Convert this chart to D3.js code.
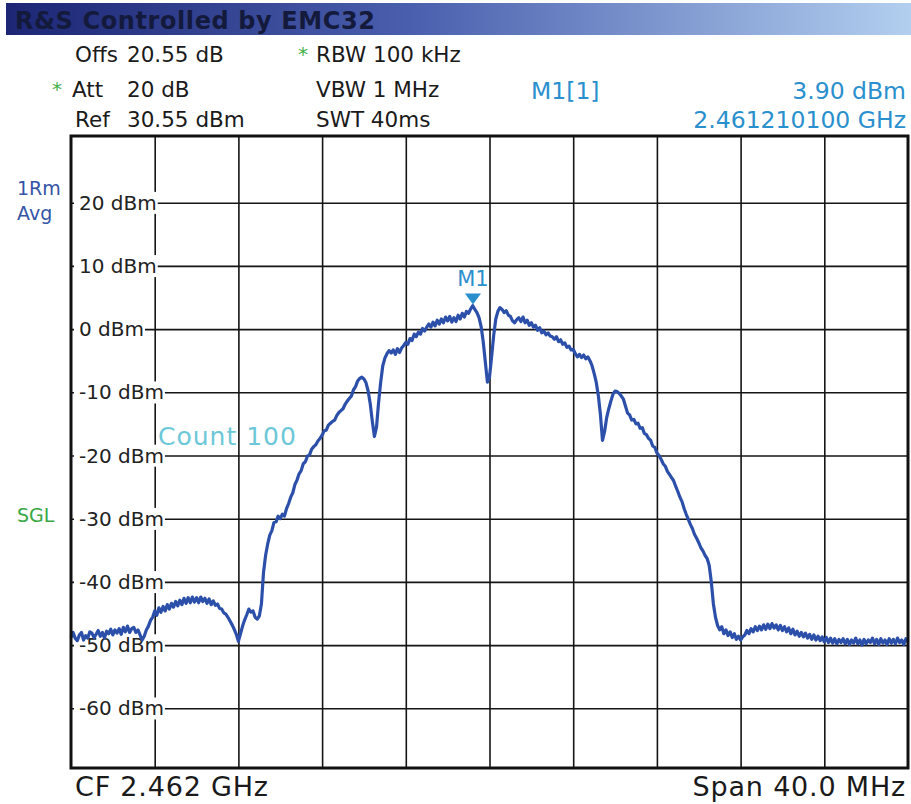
<!DOCTYPE html>
<html>
<head>
<meta charset="utf-8">
<script src="https://cdn.jsdelivr.net/npm/d3@7"></script>
<style>
  html, body { margin: 0; padding: 0; background: #fff; }
  svg { display: block; font-family: "DejaVu Sans", Verdana, sans-serif; }
</style>
</head>
<body>
<svg id="chart" width="911" height="804"></svg>
<script>
// analyzer settings
const centerGHz = 2.462;
const spanMHz = 40;
const refLevel = 30.55;
const rangeDb = 100;

// sweep trace, dBm, one point every 0.1 MHz from CF-20 MHz to CF+20 MHz
const traceDbm = [
  -48.8, -48.0, -48.9, -49.3, -48.4, -48.0, -49.2, -48.5, -48.9, -47.9,
  -48.1, -48.8, -48.3, -47.7, -48.6, -48.0, -48.9, -47.8, -48.2, -47.5,
  -48.4, -47.6, -48.1, -47.4, -48.3, -47.2, -47.9, -47.0, -48.0, -47.4,
  -47.2, -48.0, -47.6, -48.4, -49.2, -48.6, -47.6, -47.0, -46.1, -45.6,
  -44.6, -45.3, -44.1, -44.8, -43.9, -44.6, -43.6, -44.3, -43.4, -44.0,
  -43.1, -43.8, -42.9, -43.6, -42.6, -43.4, -42.5, -43.3, -42.4, -43.2,
  -42.5, -43.3, -42.4, -43.1, -42.6, -43.4, -42.7, -43.6, -43.0, -43.7,
  -43.5, -44.2, -44.3, -44.9, -45.1, -45.6, -46.2, -46.8, -47.5, -48.3,
  -49.4, -48.2, -47.0, -46.0, -45.2, -44.3, -44.8, -44.6, -45.6, -45.9,
  -45.4, -43.5, -38.5, -35.8, -34.0, -32.6, -31.9, -30.6, -30.5, -29.6,
  -30.0, -29.3, -29.6, -28.4, -27.6, -26.6, -25.9, -24.6, -23.9, -22.9,
  -22.4, -21.3, -21.0, -20.1, -19.9, -19.0, -18.6, -18.3, -17.7, -17.3,
  -16.8, -16.1, -16.0, -15.2, -14.9, -14.6, -14.4, -13.7, -13.2, -12.9,
  -12.6, -11.9, -11.4, -11.0, -10.6, -9.6, -9.1, -8.2, -7.8, -7.6,
  -7.9, -8.5, -9.8, -11.8, -14.6, -17.0, -15.5, -11.6, -8.4, -5.8,
  -4.6, -3.9, -3.4, -3.8, -3.3, -4.0, -3.1, -3.7, -3.0, -2.6,
  -2.1, -2.4, -1.5, -1.8, -0.8, -1.2, -0.5, -0.8, 0.1, -0.3,
  0.3, 0.8, 0.3, 1.1, 0.5, 1.4, 0.8, 1.6, 1.0, 1.9,
  1.3, 2.0, 1.1, 1.8, 1.2, 2.2, 1.6, 2.5, 1.9, 2.8,
  2.5, 3.2, 3.7, 3.1, 2.6, 1.8, 0.4, -2.0, -5.2, -8.4,
  -7.6, -4.4, -1.0, 1.6, 2.8, 3.4, 3.1, 2.6, 2.9, 2.2,
  2.0, 1.3, 1.0, 1.5, 1.8, 1.2, 1.9, 1.0, 1.4, 0.6,
  1.0, 0.3, 0.6, -0.2, 0.2, -0.6, -0.3, -0.9, -0.6, -1.1,
  -1.2, -1.6, -1.2, -2.0, -1.7, -2.4, -2.2, -2.9, -2.7, -3.3,
  -3.2, -3.9, -4.4, -4.0, -4.5, -4.1, -4.7, -4.4, -5.0, -5.8,
  -7.0, -8.4, -10.5, -13.5, -17.6, -16.2, -14.0, -12.6, -11.4, -10.3,
  -9.8, -9.9, -10.2, -10.6, -11.1, -12.2, -13.3, -13.6, -14.4, -14.3,
  -15.0, -14.9, -15.7, -15.6, -16.5, -16.7, -17.3, -17.6, -18.5, -18.7,
  -19.6, -20.0, -20.6, -21.3, -21.7, -22.5, -23.0, -23.5, -24.0, -24.9,
  -25.7, -26.6, -27.3, -28.4, -29.3, -30.1, -30.9, -31.6, -32.5, -33.1,
  -33.8, -34.6, -35.1, -35.8, -36.3, -37.4, -40.0, -43.5, -45.6, -46.9,
  -47.6, -47.1, -48.2, -47.6, -48.5, -47.9, -48.8, -48.2, -49.1, -48.6,
  -49.2, -48.7, -48.4, -47.7, -48.2, -47.4, -47.9, -47.1, -47.7, -47.0,
  -47.6, -46.8, -47.5, -46.7, -47.4, -46.6, -47.3, -46.8, -47.6, -46.9,
  -47.7, -47.1, -47.9, -47.3, -48.2, -47.5, -48.4, -47.8, -48.6, -48.0,
  -48.7, -48.1, -48.9, -48.3, -49.1, -48.4, -49.2, -48.6, -49.3, -48.7,
  -49.5, -48.8, -49.6, -48.9, -49.7, -49.0, -49.8, -49.1, -49.6, -49.0,
  -49.8, -49.1, -49.9, -49.2, -49.7, -48.9, -49.8, -49.2, -50.0, -49.1,
  -49.8, -49.2, -49.6, -48.9, -49.8, -49.1, -49.9, -49.0, -49.7, -49.2,
  -49.9, -49.0, -49.7, -49.1, -49.8, -48.9, -49.6, -49.2, -49.9, -49.0,
  -49.5
];
const sweepStepMHz = 0.1;

// grid / labels
const yTicks = [20, 10, 0, -10, -20, -30, -40, -50, -60];
const xGridMHz = [-16, -12, -8, -4, 0, 4, 8, 12, 16];

// marker
const markerGHz = 2.4612101;
const markerDbm = 3.90;

// header texts
const headerNames = ["Offs", "Att", "Ref"];
const headerValues = ["20.55 dB", "20 dB", "30.55 dBm"];
const headerMid = ["RBW 100 kHz", "VBW 1 MHz", "SWT 40ms"];

const svg = d3.select("#chart");
const plot = { left: 71, right: 908, top: 136, bottom: 768 };

const x = d3.scaleLinear().domain([-spanMHz / 2, spanMHz / 2]).range([plot.left, plot.right]);
const y = d3.scaleLinear().domain([refLevel - rangeDb, refLevel]).range([plot.bottom, plot.top]);

// title bar
const grad = svg.append("defs").append("linearGradient").attr("id", "bar");
grad.append("stop").attr("offset", "0%").attr("stop-color", "#1c2674");
grad.append("stop").attr("offset", "45%").attr("stop-color", "#4a5fae");
grad.append("stop").attr("offset", "100%").attr("stop-color", "#b2cfef");
svg.append("rect").attr("x", 6).attr("y", 3).attr("width", 905).attr("height", 32).attr("fill", "url(#bar)");
svg.append("text").attr("x", 15).attr("y", 29).attr("font-size", 24).attr("font-weight", "bold")
  .attr("fill", "#141a3c").attr("letter-spacing", 0.6).text("R&S Controlled by EMC32");

// header rows
const rowY = [62, 97, 127];
svg.selectAll(".hn").data(headerNames).join("text")
  .attr("x", (d, i) => i === 1 ? 72 : 75).attr("y", (d, i) => rowY[i])
  .attr("font-size", 21.5).attr("fill", "#1a1a1a").text(d => d);
svg.selectAll(".hv").data(headerValues).join("text")
  .attr("x", 127).attr("y", (d, i) => rowY[i])
  .attr("font-size", 21.5).attr("fill", "#1a1a1a").text(d => d);
svg.selectAll(".hm").data(headerMid).join("text")
  .attr("x", 316).attr("y", (d, i) => rowY[i])
  .attr("font-size", 21.5).attr("fill", "#1a1a1a").text(d => d);
svg.append("text").attr("x", 52).attr("y", rowY[1] - 1).attr("font-size", 20).attr("fill", "#44b04a").text("*");
svg.append("text").attr("x", 298).attr("y", rowY[0] - 1).attr("font-size", 20).attr("fill", "#44b04a").text("*");

const blue = "#2a8fcd";
svg.append("text").attr("x", 531).attr("y", 99).attr("font-size", 23.5)
  .attr("fill", blue).text("M1[1]");
svg.append("text").attr("x", 906).attr("y", 99).attr("font-size", 23.5)
  .attr("fill", blue).attr("text-anchor", "end").text(markerDbm.toFixed(2) + " dBm");
svg.append("text").attr("x", 906).attr("y", 128).attr("font-size", 23.5)
  .attr("fill", blue).attr("text-anchor", "end").text(markerGHz.toFixed(9) + " GHz");

// side labels
svg.append("text").attr("x", 17).attr("y", 195).attr("font-size", 19).attr("fill", "#3454a6").text("1Rm");
svg.append("text").attr("x", 17).attr("y", 220).attr("font-size", 19).attr("fill", "#3454a6").text("Avg");
svg.append("text").attr("x", 17).attr("y", 522).attr("font-size", 19).attr("fill", "#3aa845").text("SGL");

// grid
const gx = svg.append("g").attr("transform", `translate(0,${plot.bottom})`)
  .call(d3.axisBottom(x).tickValues(xGridMHz).tickSize(-(plot.bottom - plot.top)).tickFormat(""));
const gy = svg.append("g").attr("transform", `translate(${plot.left},0)`)
  .call(d3.axisLeft(y).tickValues(yTicks).tickSize(-(plot.right - plot.left)).tickFormat(""));
[gx, gy].forEach(g => {
  g.select(".domain").remove();
  g.selectAll("line").attr("stroke", "#151515").attr("stroke-width", 1.6);
});

// level labels sit on white boxes over the grid
const lab = svg.append("g").selectAll("g").data(yTicks).join("g");
lab.append("rect").attr("fill", "#fff");
lab.append("text").attr("x", 79).attr("y", d => y(d)).attr("dy", "0.36em")
  .attr("font-size", 20).attr("fill", "#222").text(d => d + " dBm");
lab.each(function () {
  const t = d3.select(this).select("text").node().getBBox();
  d3.select(this).select("rect").attr("x", 74).attr("y", t.y + t.height / 2 - 11)
    .attr("width", t.x + t.width - 73).attr("height", 22);
});

// trace
const line = d3.line().x((d, i) => x(-spanMHz / 2 + i * sweepStepMHz)).y(d => y(d));
svg.append("path").datum(traceDbm).attr("d", line).attr("fill", "none")
  .attr("stroke", "#2c50aa").attr("stroke-width", 3.2).attr("stroke-linejoin", "round");

// count label
svg.append("text").attr("x", 158).attr("y", 445).attr("font-size", 25).attr("letter-spacing", 1)
  .attr("fill", "#6cc8d8").text("Count 100");

// marker
const mx = x((markerGHz - centerGHz) * 1000), my = y(markerDbm);
svg.append("path").attr("d", `M${mx - 8},${my - 11}L${mx + 8},${my - 11}L${mx},${my}Z`).attr("fill", blue);
svg.append("text").attr("x", mx).attr("y", my - 18).attr("text-anchor", "middle")
  .attr("font-size", 21).attr("fill", blue).text("M1");

// frame
svg.append("rect").attr("x", plot.left).attr("y", plot.top)
  .attr("width", plot.right - plot.left).attr("height", plot.bottom - plot.top)
  .attr("fill", "none").attr("stroke", "#111").attr("stroke-width", 3);

// footer
svg.append("text").attr("x", 75).attr("y", 796).attr("font-size", 27).attr("letter-spacing", 0.8)
  .attr("fill", "#1a1a1a").text("CF " + centerGHz.toFixed(3) + " GHz");
svg.append("text").attr("x", 906).attr("y", 796).attr("font-size", 27).attr("letter-spacing", 0.8)
  .attr("text-anchor", "end").attr("fill", "#1a1a1a").text("Span " + spanMHz.toFixed(1) + " MHz");
</script>
</body>
</html>
